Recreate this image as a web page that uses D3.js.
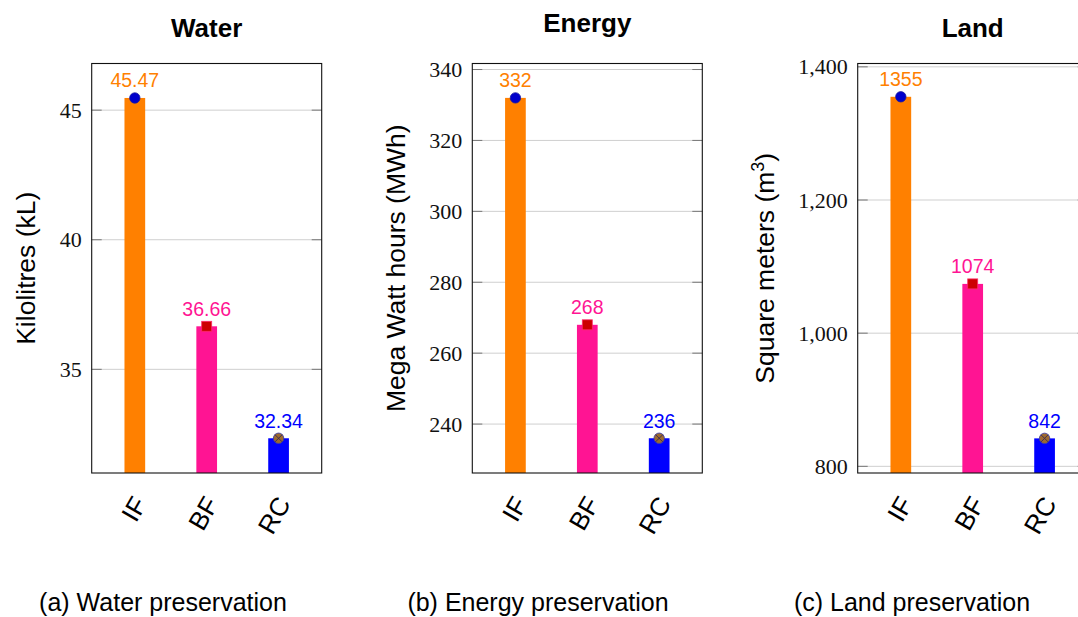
<!DOCTYPE html>
<html><head><meta charset="utf-8">
<script src="https://cdn.jsdelivr.net/npm/d3@7/dist/d3.min.js"></script>
<style>body{margin:0;background:#fff}svg{display:block}</style>
</head><body>
<svg id="c" width="1078" height="617"></svg>
<script>
// ---- data ----
const categories = ["IF", "BF", "RC"];
const waterValues = [45.47, 36.66, 32.34];
const energyValues = [332, 268, 236];
const landValues = [1355, 1074, 842];
const waterLabels = ["45.47", "36.66", "32.34"];
const energyLabels = ["332", "268", "236"];
const landLabels = ["1355", "1074", "842"];
const waterTicks = [35, 40, 45];
const energyTicks = [240, 260, 280, 300, 320, 340];
const landTicks = [800, 1000, 1200, 1400];
const waterDomain = [31.0, 46.8];
const energyDomain = [226.2, 341.7];
const landDomain = [790, 1405];
const titles = ["Water", "Energy", "Land"];
const yLabels = ["Kilolitres (kL)", "Mega Watt hours (MWh)", "Square meters (m|3|)"];
const captions = ["(a) Water preservation", "(b) Energy preservation", "(c) Land preservation"];
const barColors = ["#ff8000", "#ff1493", "#0000ff"];
const markerTypes = ["circle", "square", "otimes"];

// ---- layout ----
const plotLefts = [91.7, 472.3, 857.7];
const captionCenters = [163, 538, 912];
const plotW = 230, plotTop = 63.5, plotBottom = 473;
const SANS = "'Liberation Sans', Arial, Helvetica, sans-serif";
const SERIF = "'Liberation Serif', 'DejaVu Serif', 'Times New Roman', serif";

const svg = d3.select("#c");

const panels = [
  {values: waterValues, labels: waterLabels, ticks: waterTicks, domain: waterDomain, fmt: d3.format("d")},
  {values: energyValues, labels: energyLabels, ticks: energyTicks, domain: energyDomain, fmt: d3.format("d")},
  {values: landValues, labels: landLabels, ticks: landTicks, domain: landDomain, fmt: d3.format(",")}
];

panels.forEach((p, pi) => {
  const left = plotLefts[pi], right = left + plotW;
  const x = d3.scaleLinear().domain([0.4, 3.6]).range([left, right]);
  const y = d3.scaleLinear().domain(p.domain).range([plotBottom, plotTop]);
  const g = svg.append("g");

  // grid
  g.selectAll("line.grid").data(p.ticks).join("line")
    .attr("x1", left).attr("x2", right)
    .attr("y1", d => y(d)).attr("y2", d => y(d))
    .attr("stroke", "#cfcfcf").attr("stroke-width", 1);
  // tick marks (inside, both sides)
  g.selectAll("line.tl").data(p.ticks).join("line")
    .attr("x1", left).attr("x2", left + 10)
    .attr("y1", d => y(d)).attr("y2", d => y(d))
    .attr("stroke", "#777").attr("stroke-width", 1);
  g.selectAll("line.tr").data(p.ticks).join("line")
    .attr("x1", right - 10).attr("x2", right)
    .attr("y1", d => y(d)).attr("y2", d => y(d))
    .attr("stroke", "#777").attr("stroke-width", 1);

  // y tick labels through axis
  const ax = g.append("g").attr("transform", `translate(${left},0)`)
    .call(d3.axisLeft(y).tickValues(p.ticks).tickSize(0).tickPadding(10).tickFormat(p.fmt));
  ax.attr("font-family", null).attr("font-size", null);
  ax.select(".domain").remove();
  ax.selectAll("text").style("font-family", SERIF).style("font-size", "22px").attr("fill", "#111");
  let maxW = 0;
  ax.selectAll("text").each(function(){ maxW = Math.max(maxW, this.getBBox().width); });

  // bars
  const bw = 20.7;
  g.selectAll("rect.bar").data(p.values).join("rect")
    .attr("x", (d, i) => x(i + 1) - bw / 2)
    .attr("width", bw)
    .attr("y", d => y(d))
    .attr("height", d => plotBottom - y(d))
    .attr("fill", (d, i) => barColors[i]);

  // frame
  g.append("rect").attr("x", left).attr("y", plotTop).attr("width", plotW).attr("height", plotBottom - plotTop)
    .attr("fill", "none").attr("stroke", "#111").attr("stroke-width", 1.1);

  // markers
  p.values.forEach((v, i) => {
    const cx = x(i + 1), cy = y(v);
    if (markerTypes[i] === "circle") {
      g.append("circle").attr("cx", cx).attr("cy", cy).attr("r", 5.2)
        .attr("fill", "#0000cc").attr("stroke", "#1a1aa0").attr("stroke-width", 0.8);
    } else if (markerTypes[i] === "square") {
      g.append("rect").attr("x", cx - 5).attr("y", cy - 5).attr("width", 10).attr("height", 10)
        .attr("fill", "#cc0000").attr("stroke", "#ff2a6a").attr("stroke-width", 0.8);
    } else {
      const r = 5.2;
      g.append("circle").attr("cx", cx).attr("cy", cy).attr("r", r)
        .attr("fill", "#9e6a2e").attr("stroke", "#4040a0").attr("stroke-width", 0.9);
      const k = r * Math.SQRT1_2;
      g.append("path").attr("d", `M${cx - k},${cy - k}L${cx + k},${cy + k}M${cx - k},${cy + k}L${cx + k},${cy - k}`)
        .attr("stroke", "#3a2a55").attr("stroke-width", 0.9);
    }
  });

  // value labels
  g.selectAll("text.val").data(p.values).join("text")
    .attr("x", (d, i) => x(i + 1)).attr("y", d => y(d) - 10.6)
    .attr("text-anchor", "middle").attr("font-family", SANS).attr("font-size", 19.5)
    .attr("fill", (d, i) => barColors[i])
    .text((d, i) => p.labels[i]);

  // x tick labels
  g.selectAll("text.xl").data(categories).join("text")
    .attr("transform", (d, i) => `translate(${x(i + 1) + 5},${plotBottom + 26}) rotate(-60)`)
    .attr("text-anchor", "end").attr("dominant-baseline", "central")
    .attr("font-family", SANS).attr("font-size", 26).attr("fill", "#000")
    .text(d => d);

  // title
  const t = titles[pi];
  const hasDesc = /[gjpqy]/.test(t);
  g.append("text").attr("x", (left + right) / 2).attr("y", hasDesc ? 31.8 : 37.3)
    .attr("text-anchor", "middle").attr("font-family", SANS).attr("font-weight", "bold")
    .attr("font-size", 26).attr("fill", "#000").text(t);

  // y label
  const bx = left - 10 - maxW - 24.4;
  const yl = g.append("text").attr("transform", `translate(${bx},${(plotTop + plotBottom) / 2}) rotate(-90)`)
    .attr("text-anchor", "middle").attr("font-family", SANS).attr("font-size", 26.5).attr("fill", "#000");
  const parts = yLabels[pi].split("|");
  parts.forEach((s, j) => {
    const ts = yl.append("tspan").text(s);
    if (j % 2 === 1) ts.attr("font-size", 18).attr("baseline-shift", "super");
  });

  // caption
  svg.append("text").attr("x", captionCenters[pi]).attr("y", 611)
    .attr("text-anchor", "middle").attr("font-family", SANS).attr("font-size", 25)
    .attr("fill", "#000").text(captions[pi]);
});
</script>
</body></html>
